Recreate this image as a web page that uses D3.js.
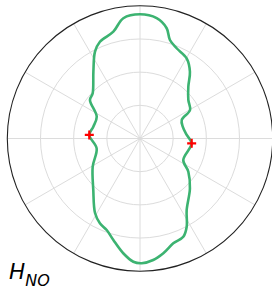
<!DOCTYPE html>
<html>
<head>
<meta charset="utf-8">
<script src="https://cdn.jsdelivr.net/npm/d3@7"></script>
<style>
  body { margin: 0; background: #fff; }
  svg { display: block; }
</style>
</head>
<body>
<svg id="chart" width="272" height="290"></svg>
<script>
// curve: angle in degrees (counter-clockwise from east), radius (outer ring = 1)
const curveAngles = [-5.3, 4.3, 15.4, 23.9, 29.7, 38.6, 47.0, 53.2, 59.8, 67.9, 73.1, 76.4, 82.1, 90,
  97.9, 104.0, 112.5, 117.4, 124.9, 136.3, 142.4, 153.3, 165.8, 176, 192.8, 210.8, 227.8, 238.9,
  244.7, 250, 255.3, 261.7, 266.9, 270.8, 276.2, 281.5, 287.6, 293.8, 297.9, 303.1, 315, 325.5, 333.6];
const curveRadii = [0.391, 0.353, 0.334, 0.344, 0.434, 0.466, 0.534, 0.628, 0.699, 0.734, 0.776, 0.855, 0.915, 0.936,
  0.915, 0.830, 0.789, 0.737, 0.614, 0.493, 0.476, 0.365, 0.363, 0.383, 0.335, 0.415, 0.524, 0.656,
  0.707, 0.734, 0.791, 0.874, 0.930, 0.940, 0.921, 0.882, 0.829, 0.809, 0.752, 0.644, 0.532, 0.442, 0.364];
const markerAngles = [176, -5.3];
const markerRadii = [0.383, 0.391];
const ringTicks = [0.25, 0.5, 0.75];
const spokeAngles = d3.range(0, 360, 30);

const cx = 140, cy = 138.5, R = 132.7;
const svg = d3.select('#chart');
const g = svg.append('g').attr('transform', `translate(${cx},${cy})`);

const r = d3.scaleLinear().domain([0, 1]).range([0, R]);
// math angle -> d3 radial angle (0 at top, clockwise)
const toRad = deg => (90 - deg) * Math.PI / 180;

// grid
g.selectAll('circle.ring').data(ringTicks).join('circle')
    .attr('class', 'ring')
    .attr('r', d => r(d))
    .attr('fill', 'none')
    .attr('stroke', '#dcdcdc')
    .attr('stroke-width', 1);

g.selectAll('line.spoke').data(spokeAngles).join('line')
    .attr('class', 'spoke')
    .attr('x1', 0).attr('y1', 0)
    .attr('x2', d => r(1) * Math.cos(d * Math.PI / 180))
    .attr('y2', d => -r(1) * Math.sin(d * Math.PI / 180))
    .attr('stroke', '#dcdcdc')
    .attr('stroke-width', 1);

g.append('circle')
    .attr('r', r(1))
    .attr('fill', 'none')
    .attr('stroke', '#222')
    .attr('stroke-width', 1.1);

// curve
const pts = curveAngles.map((a, i) => [toRad(a), r(curveRadii[i])]);
const line = d3.lineRadial().curve(d3.curveCatmullRomClosed.alpha(0.5));
g.append('path')
    .attr('d', line(pts))
    .attr('fill', 'none')
    .attr('stroke', '#3cb371')
    .attr('stroke-width', 2.6);

// markers
const mk = markerAngles.map((a, i) => ({
  x: r(markerRadii[i]) * Math.cos(a * Math.PI / 180),
  y: -r(markerRadii[i]) * Math.sin(a * Math.PI / 180)
}));
g.selectAll('path.marker').data(mk).join('path')
    .attr('class', 'marker')
    .attr('d', d => `M${d.x - 4.5},${d.y}H${d.x + 4.5}M${d.x},${d.y - 4.5}V${d.y + 4.5}`)
    .attr('stroke', '#ff0000')
    .attr('stroke-width', 2.2);

// label
const label = svg.append('text')
    .attr('x', 9).attr('y', 279)
    .attr('font-family', 'DejaVu Sans')
    .attr('font-style', 'italic')
    .attr('font-size', 21.5)
    .attr('fill', '#000');
label.append('tspan').text('H');
label.append('tspan').attr('font-size', 16).attr('dy', 6.5).text('NO');
</script>
</body>
</html>
